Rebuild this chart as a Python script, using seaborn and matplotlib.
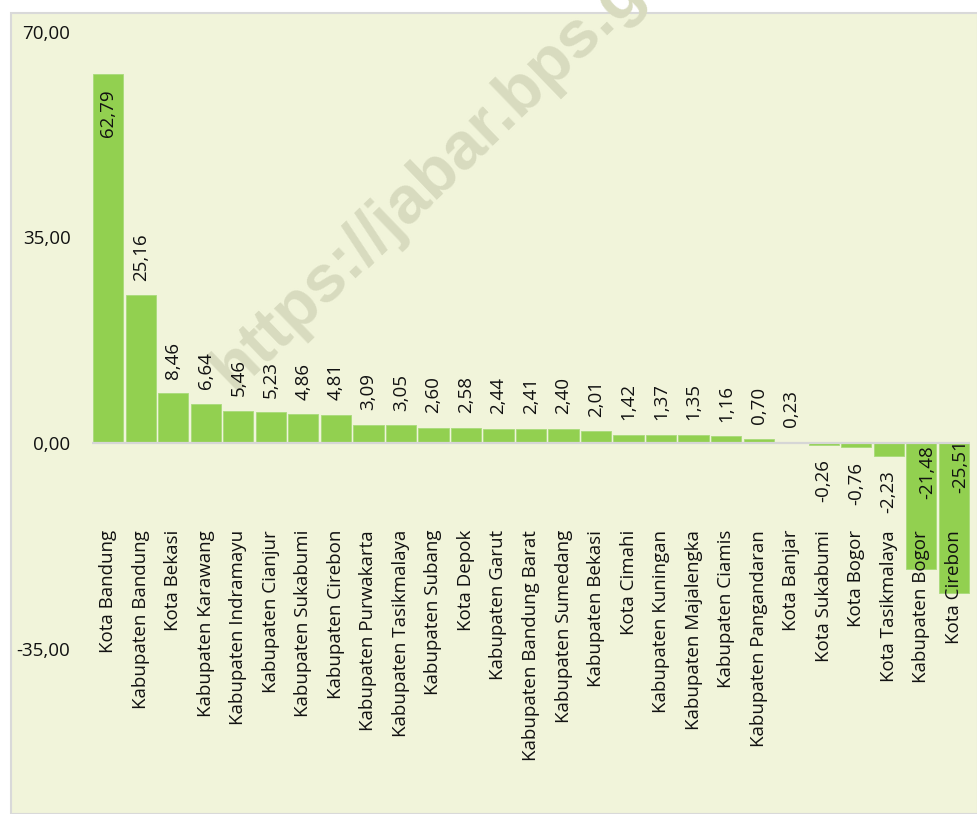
import matplotlib
matplotlib.use("Agg")
import matplotlib.pyplot as plt
import seaborn as sns
import pandas as pd
from matplotlib.patches import Rectangle
from matplotlib.ticker import FuncFormatter

categories = [
    "Kota Bandung", "Kabupaten Bandung", "Kota Bekasi", "Kabupaten Karawang",
    "Kabupaten Indramayu", "Kabupaten Cianjur", "Kabupaten Sukabumi",
    "Kabupaten Cirebon", "Kabupaten Purwakarta", "Kabupaten Tasikmalaya",
    "Kabupaten Subang", "Kota Depok", "Kabupaten Garut", "Kabupaten Bandung Barat",
    "Kabupaten Sumedang", "Kabupaten Bekasi", "Kota Cimahi", "Kabupaten Kuningan",
    "Kabupaten Majalengka", "Kabupaten Ciamis", "Kabupaten Pangandaran",
    "Kota Banjar", "Kota Sukabumi", "Kota Bogor", "Kota Tasikmalaya",
    "Kabupaten Bogor", "Kota Cirebon",
]
values = [
    62.79, 25.16, 8.46, 6.64, 5.46, 5.23, 4.86, 4.81, 3.09, 3.05, 2.60, 2.58,
    2.44, 2.41, 2.40, 2.01, 1.42, 1.37, 1.35, 1.16, 0.70, 0.23, -0.26, -0.76,
    -2.23, -21.48, -25.51,
]
yticks = [70, 35, 0, -35]
watermark = "https://jabar.bps.go.id"

BG = "#F1F4DA"
BAR = "#92D050"
FONT = ["Open Sans", "DejaVu Sans"]

plt.rcParams["font.family"] = FONT

W, H = 978, 814
fig = plt.figure(figsize=(W / 100, H / 100), dpi=100)
fig.patch.set_facecolor("white")

# chart frame
fig.patches.append(Rectangle((10.5 / W, 0), (W - 10) / W, (H - 12.5) / H,
                             transform=fig.transFigure, facecolor=BG,
                             edgecolor="#D9D9D9", linewidth=1.5, zorder=-2))

# watermark
fig.text(234 / W, 1 - 392 / H, watermark, rotation=44, rotation_mode="anchor",
         ha="left", va="baseline", fontsize=48, fontweight="bold",
         family=["Liberation Sans", "DejaVu Sans"], color="#D8DBBF", zorder=-1)

n = len(categories)
ax = fig.add_axes([92 / W, 0, 878 / W, 1 - 32 / H])
ax.set_facecolor("none")
df = pd.DataFrame({"cat": categories, "val": values})
sns.barplot(data=df, x="cat", y="val", color=BAR, saturation=1, width=0.93,
            edgecolor="#A8DA7A", linewidth=0.6, ax=ax, zorder=2)

ax.set_xlim(-0.5, n - 0.5)
ax.set_ylim(-(H - 443) / ((443 - 32) / 70), 70)
ax.set_yticks(yticks)
ax.yaxis.set_major_formatter(FuncFormatter(lambda v, p: f"{v:.2f}".replace(".", ",")))
ax.tick_params(axis="y", length=0, pad=15.5, labelsize=13.5, labelcolor="#111111")
ax.set_xticks([])
ax.set_xlabel("")
ax.set_ylabel("")
for s in ax.spines.values():
    s.set_visible(False)

ax.axhline(0, color="#D6D6D6", linewidth=1.6, zorder=3)

# category labels
for i, c in enumerate(categories):
    ax.text(i, -14.8, c, rotation=90, ha="center", va="top", fontsize=13.5,
            color="#111111", zorder=4)

# value labels
for i, v in enumerate(values):
    txt = f"{v:.2f}".replace(".", ",")
    if v >= 60:
        ax.annotate(txt, (i, v), xytext=(0, -11), textcoords="offset points",
                    rotation=90, ha="center", va="top", fontsize=13.5, color="#111111", zorder=4)
    elif v >= 0:
        ax.annotate(txt, (i, v), xytext=(0, 10.5), textcoords="offset points",
                    rotation=90, ha="center", va="bottom", fontsize=13.5, color="#111111", zorder=4)
    elif v > -10:
        ax.annotate(txt, (i, v), xytext=(0, -10.5), textcoords="offset points",
                    rotation=90, ha="center", va="top", fontsize=13.5, color="#111111", zorder=4)
    else:
        dy = -1.5 if v > -25 else 2.5
        ax.annotate(txt, (i, 0), xytext=(4.5, dy), textcoords="offset points",
                    rotation=90, ha="center", va="top", fontsize=13.5, color="#111111", zorder=2.5)

fig.savefig("out.png", dpi=100)
